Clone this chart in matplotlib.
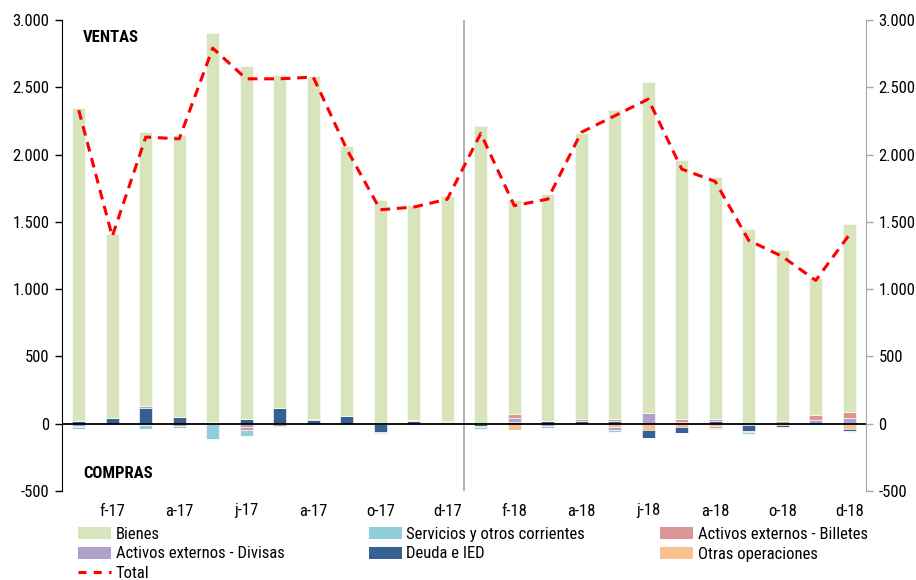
import numpy as np
import matplotlib
matplotlib.use("Agg")
import matplotlib.pyplot as plt
from matplotlib.patches import Patch
from matplotlib.lines import Line2D
from matplotlib import font_manager

names = {f.name for f in font_manager.fontManager.ttflist}
cond = [n for n in ['Roboto Condensed', 'Liberation Sans Narrow', 'Open Sans Condensed'] if n in names]
plt.rcParams['font.family'] = cond + ['Roboto', 'DejaVu Sans']

# months Jan-17 .. Dec-18
months = ["e-17", "f-17", "m-17", "a-17", "m-17", "j-17", "j-17", "a-17", "s-17", "o-17", "n-17", "d-17",
          "e-18", "f-18", "m-18", "a-18", "m-18", "j-18", "j-18", "a-18", "s-18", "o-18", "n-18", "d-18"]

bienes = [2331, 1371, 2040, 2098, 2884, 2620, 2479, 2550, 2004, 1664, 1602, 1671,
          2202, 1594, 1687, 2128, 2296, 2459, 1929, 1801, 1449, 1270, 1015, 1401]
servicios = [-14, -7, -25, -10, -111, -45, -12, -5, -8, -6, -7, -8,
             -10, 0, -15, 0, -12, -5, -5, -5, -8, -5, -10, -5]
billetes = [-8, 0, -12, -15, 8, -27, -10, 0, 7, -12, 5, 0,
            7, 30, -15, 15, 12, 0, 17, -17, -10, 15, 40, 40]
divisas = [-15, 0, 15, -5, 0, -22, -4, 5, 0, 0, -3, 8,
           -10, 25, 5, 0, -20, 82, 15, 12, 0, 8, 25, 45]
deuda = [17, 40, 114, 47, 8, 35, 114, 30, 54, -59, 20, 0,
         -17, 15, 17, 17, 20, -54, -42, 20, -45, -17, 0, -12]
otras = [0, 0, 0, 0, 0, 0, 0, 0, 0, 0, 0, 10,
         0, -50, 0, 0, -27, -50, -25, -15, -10, -10, 0, -42]
total = [2330, 1392, 2130, 2117, 2791, 2563, 2563, 2576, 2040, 1590, 1610, 1668,
         2157, 1620, 1669, 2165, 2288, 2412, 1892, 1800, 1362, 1243, 1065, 1404]

# stacking order (closest to zero first)
series = [
    ("Otras operaciones", otras, "#fac090"),
    ("Deuda e IED", deuda, "#366092"),
    ("Activos externos - Divisas", divisas, "#b1a0c7"),
    ("Activos externos - Billetes", billetes, "#da9694"),
    ("Servicios y otros corrientes", servicios, "#92cddc"),
    ("Bienes", bienes, "#d8e4bc"),
]

fig = plt.figure(figsize=(9.16, 5.80), dpi=100)
ax = fig.add_axes([62 / 916, 1 - 491 / 580, 804 / 916, 471 / 580])

x = np.arange(len(months))
pos_bottom = np.zeros(len(x))
neg_bottom = np.zeros(len(x))
for name, vals, col in series:
    v = np.array(vals, dtype=float)
    pos = np.where(v > 0, v, 0)
    neg = np.where(v < 0, v, 0)
    ax.bar(x, pos, 0.4, bottom=pos_bottom, color=col, edgecolor='white', linewidth=0.4)
    ax.bar(x, neg, 0.4, bottom=neg_bottom, color=col, edgecolor='white', linewidth=0.4)
    pos_bottom += pos
    neg_bottom += neg

ax.plot(x, total, color='#ff0000', lw=2.2, ls=(0, (3.2, 2.2)), zorder=5)

ax.axhline(0, color='black', lw=1.3, zorder=4)
ax.axvline(11.5, color='#a6a6a6', lw=1.2, zorder=1)

ax.set_xlim(-0.5, len(x) - 0.5)
ax.set_ylim(-500, 3000)
yt = np.arange(-500, 3001, 500)
ylabels = [f"{v:,.0f}".replace(",", ".") for v in yt]
fs = 12 if cond else 11
ax.set_yticks(yt)
ax.set_yticklabels(ylabels, fontsize=fs)
ax.set_xticks(x[1::2])
ax.set_xticklabels(months[1::2], fontsize=fs)
ax.tick_params(axis='x', length=0, pad=9)
ax.tick_params(axis='y', length=5, width=1, color='black', pad=4)
for s in ['top', 'right', 'bottom']:
    ax.spines[s].set_visible(False)
ax.spines['left'].set_color('black')

ax2 = ax.twinx()
ax2.set_ylim(-500, 3000)
ax2.set_yticks(yt)
ax2.set_yticklabels(ylabels, fontsize=fs)
ax2.tick_params(axis='y', length=5, width=1, color='#a6a6a6', pad=4)
for s in ['top', 'left', 'bottom']:
    ax2.spines[s].set_visible(False)
ax2.spines['right'].set_color('#a6a6a6')

ax.text(0.026, 0.962, "VENTAS", transform=ax.transAxes, fontsize=fs, fontweight='bold', va='center')
ax.text(0.026, 0.038, "COMPRAS", transform=ax.transAxes, fontsize=fs, fontweight='bold', va='center')

colors = {n: c for n, _, c in series}
h = {n: Patch(facecolor=c) for n, c in colors.items()}
h_total = Line2D([0], [0], color='#ff0000', lw=2.2, ls=(0, (2.6, 2.4)))
legend_cols = [
    (78, [h["Bienes"], h["Activos externos - Divisas"], h_total],
     ["Bienes", "Activos externos - Divisas", "Total"]),
    (369, [h["Servicios y otros corrientes"], h["Deuda e IED"]],
     ["Servicios y otros corrientes", "Deuda e IED"]),
    (660, [h["Activos externos - Billetes"], h["Otras operaciones"]],
     ["Activos externos - Billetes", "Otras operaciones"]),
]
for xpx, hs, ls in legend_cols:
    fig.legend(hs, ls, loc='upper left', bbox_to_anchor=(xpx / 916, 1 - 527 / 580),
               frameon=False, fontsize=fs, handlelength=2.0, handleheight=0.7,
               handletextpad=0.25, labelspacing=0.27, borderaxespad=0, borderpad=0)

fig.savefig("out.png", dpi=100)
